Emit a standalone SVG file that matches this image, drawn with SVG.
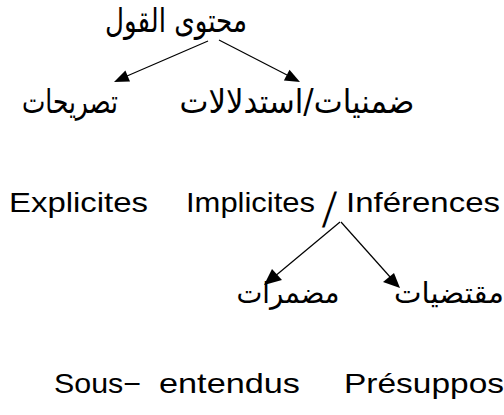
<svg xmlns="http://www.w3.org/2000/svg" width="504" height="415" viewBox="0 0 504 415">
<style>
.ar{font-family:"DejaVu Sans",sans-serif;font-size:33px;fill:#000;text-anchor:middle}
.ar2{font-size:29px}
.lt{font-family:"Liberation Sans",Arial,sans-serif;font-size:28px;fill:#000}
.cn{stroke:#000;stroke-width:1.2;fill:none}
.hd{fill:#000;stroke:none}
</style>
<rect width="504" height="415" fill="#fff"/>
<g id="n-contenu"><text class="ar" x="176" y="32" direction="rtl" textLength="142" lengthAdjust="spacingAndGlyphs">محتوى القول</text></g>
<g id="n-tasrihat"><text class="ar" x="70" y="113" direction="rtl" textLength="96" lengthAdjust="spacingAndGlyphs">تصريحات</text></g>
<g id="n-dimniyat"><text class="ar" x="297" y="113" direction="rtl" textLength="235" lengthAdjust="spacingAndGlyphs">ضمنيات/استدلالات</text></g>
<g id="n-explicites"><text class="lt" x="9" y="212" textLength="139" lengthAdjust="spacingAndGlyphs">Explicites</text></g>
<g id="n-implicites">
<text class="lt" x="186" y="212" textLength="129" lengthAdjust="spacingAndGlyphs">Implicites</text>
<text class="lt" transform="translate(322,227) skewX(-9) scale(1.2,1.75)">/</text>
<text class="lt" x="346" y="212" textLength="154" lengthAdjust="spacingAndGlyphs">Inférences</text>
</g>
<g id="n-mudmarat"><text class="ar ar2" x="288" y="303" direction="rtl" textLength="103" lengthAdjust="spacingAndGlyphs">مضمرات</text></g>
<g id="n-muqtadayat"><text class="ar ar2" x="449" y="303" direction="rtl" textLength="110" lengthAdjust="spacingAndGlyphs">مقتضيات</text></g>
<g id="n-sousentendus">
<text class="lt" x="54" y="393" textLength="87" lengthAdjust="spacingAndGlyphs">Sous−</text>
<text class="lt" x="159" y="393" textLength="141" lengthAdjust="spacingAndGlyphs">entendus</text>
</g>
<g id="n-presupposes"><text class="lt" x="344" y="393" textLength="160" lengthAdjust="spacingAndGlyphs">Présuppos</text></g>
<g id="connectors">
<line class="cn" x1="208" y1="41" x2="127" y2="76"/>
<polygon class="hd" points="114,82 130,81.5 125.4,70.5"/>
<line class="cn" x1="219" y1="40" x2="287" y2="75"/>
<polygon class="hd" points="300,82 283.9,80.4 289.5,69.8"/>
<line class="cn" x1="340" y1="222" x2="274" y2="277"/>
<polygon class="hd" points="264,285 282,280 272,269"/>
<line class="cn" x1="341" y1="222" x2="391" y2="278"/>
<polygon class="hd" points="400,288 383,282 394,273"/>
</g>
</svg>
